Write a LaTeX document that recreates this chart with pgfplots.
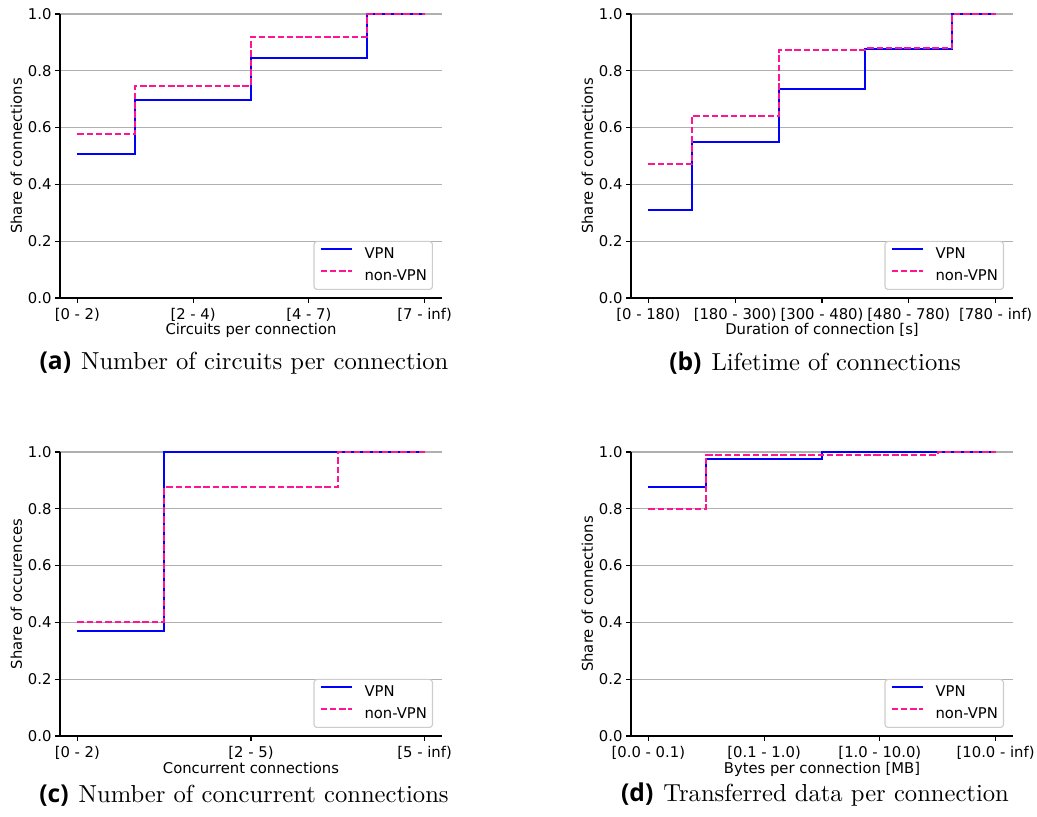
\documentclass[border=0pt]{standalone}
\usepackage{fontspec}
\usepackage{pgfplots}
\pgfplotsset{compat=1.18}
\newfontfamily\mplfont{DejaVu Sans}
\newfontfamily\capsans{Open Sans}
\newfontfamily\capfont{lmroman10-regular.otf}
\definecolor{vpnblue}{RGB}{0,0,255}
\definecolor{nvpink}{RGB}{255,20,147}
\newcommand{\mplsize}{\mplfont\fontsize{14.8}{17.5}\selectfont}
\newcommand{\capsize}{\fontsize{24.6}{29}\selectfont}
\newcommand{\subcap}[2]{\capsize{\capsans\bfseries (#1)}\hspace{10pt}{\capfont #2}}

\pgfplotsset{
  cdfpanel/.style={
    scale only axis, width=382pt, height=284pt,
    axis lines*=left, axis line style={-, line width=1.1pt},
    ymin=0, ymax=1, ytick={0,0.2,0.4,0.6,0.8,1},
    ymajorgrids, grid style={black!31, line width=1.1pt},
    tick align=outside, major tick length=5pt,
    tick style={black, line width=1.1pt},
    font=\mplsize,
    tick label style={font=\mplsize},
    /pgf/number format/assume math mode=true,
    yticklabel style={anchor=east, /pgf/number format/.cd, fixed, fixed zerofill, precision=1},
    xticklabel style={anchor=base, yshift=-17pt},
    xlabel style={at={(axis description cs:0.5,-0.1303)}, anchor=base, font=\mplsize},
    ylabel style={at={(axis description cs:-0.0995,0.5)}, anchor=base, font=\mplsize},
    legend cell align=left,
    legend style={at={(axis description cs:1,0)}, anchor=south east,
      xshift=-9pt, yshift=8pt, draw=black!20, line width=1.1pt,
      rounded corners=3pt, fill=white, fill opacity=0.8, text opacity=1,
      inner xsep=5.5pt, inner ysep=2pt, font=\mplsize,
      nodes={inner xsep=0pt, inner ysep=4pt, text height=11pt, text depth=3pt},
      /tikz/every odd column/.append style={column sep=12pt}},
    legend image code/.code={\draw[##1] (0pt,5.2pt) -- (31pt,5.2pt);},
    clip=false,
  },
  vpnline/.style={color=vpnblue, line width=2pt, const plot mark mid, mark=none},
  nvpnline/.style={color=nvpink, line width=2pt, dash pattern=on 6.5pt off 2.8pt, const plot mark mid, mark=none},
}

\begin{document}
\begin{tikzpicture}
\path[use as bounding box] (0pt,0pt) rectangle (1037pt,817pt);

% (a) circuits per connection
\begin{axis}[cdfpanel, at={(60pt,519pt)}, anchor=south west,
  xmin=-0.15, xmax=3.15, xtick={0,1,2,3},
  xticklabels={{[0 - 2)},{[2 - 4)},{[4 - 7)},{[7 - inf)}},
  xlabel={Circuits per connection}, ylabel={Share of connections}]
\addplot[vpnline] coordinates {(0,0.508) (1,0.696) (2,0.846) (3,1.0)};
\addplot[nvpnline] coordinates {(0,0.576) (1,0.748) (2,0.919) (3,1.0)};
\legend{VPN,non-VPN}
\end{axis}

% (b) lifetime of connections
\begin{axis}[cdfpanel, at={(631pt,519pt)}, anchor=south west,
  xmin=-0.2, xmax=4.2, xtick={0,1,2,3,4},
  xticklabels={{[0 - 180)},{[180 - 300)},{[300 - 480)},{[480 - 780)},{[780 - inf)}},
  xlabel={Duration of connection [s]}, ylabel={Share of connections}]
\addplot[vpnline] coordinates {(0,0.309) (1,0.549) (2,0.735) (3,0.878) (4,1.0)};
\addplot[nvpnline] coordinates {(0,0.471) (1,0.640) (2,0.874) (3,0.879) (4,1.0)};
\legend{VPN,non-VPN}
\end{axis}

% (c) concurrent connections
\begin{axis}[cdfpanel, at={(60pt,81pt)}, anchor=south west,
  xmin=-0.1, xmax=2.1, xtick={0,1,2},
  xticklabels={{[0 - 2)},{[2 - 5)},{[5 - inf)}},
  xlabel={Concurrent connections}, ylabel={Share of occurences}]
\addplot[vpnline] coordinates {(0,0.368) (1,1.0) (2,1.0)};
\addplot[nvpnline] coordinates {(0,0.402) (1,0.875) (2,1.0)};
\legend{VPN,non-VPN}
\end{axis}

% (d) transferred data
\begin{axis}[cdfpanel, at={(631pt,81pt)}, anchor=south west,
  xmin=-0.15, xmax=3.15, xtick={0,1,2,3},
  xticklabels={{[0.0 - 0.1)},{[0.1 - 1.0)},{[1.0 - 10.0)},{[10.0 - inf)}},
  xlabel={Bytes per connection [MB]}, ylabel={Share of connections}]
\addplot[vpnline] coordinates {(0,0.877) (1,0.974) (2,1.0) (3,1.0)};
\addplot[nvpnline] coordinates {(0,0.800) (1,0.990) (2,0.990) (3,1.0)};
\legend{VPN,non-VPN}
\end{axis}

\node[anchor=base, inner sep=0pt] at (244pt,447pt) {\subcap{a}{Number of circuits per connection}};
\node[anchor=base, inner sep=0pt] at (815pt,446.3pt) {\subcap{b}{Lifetime of connections}};
\node[anchor=base, inner sep=0pt] at (244pt,14.7pt) {\subcap{c}{Number of concurrent connections}};
\node[anchor=base, inner sep=0pt] at (815pt,15pt) {\subcap{d}{Transferred data per connection}};
\end{tikzpicture}
\end{document}
